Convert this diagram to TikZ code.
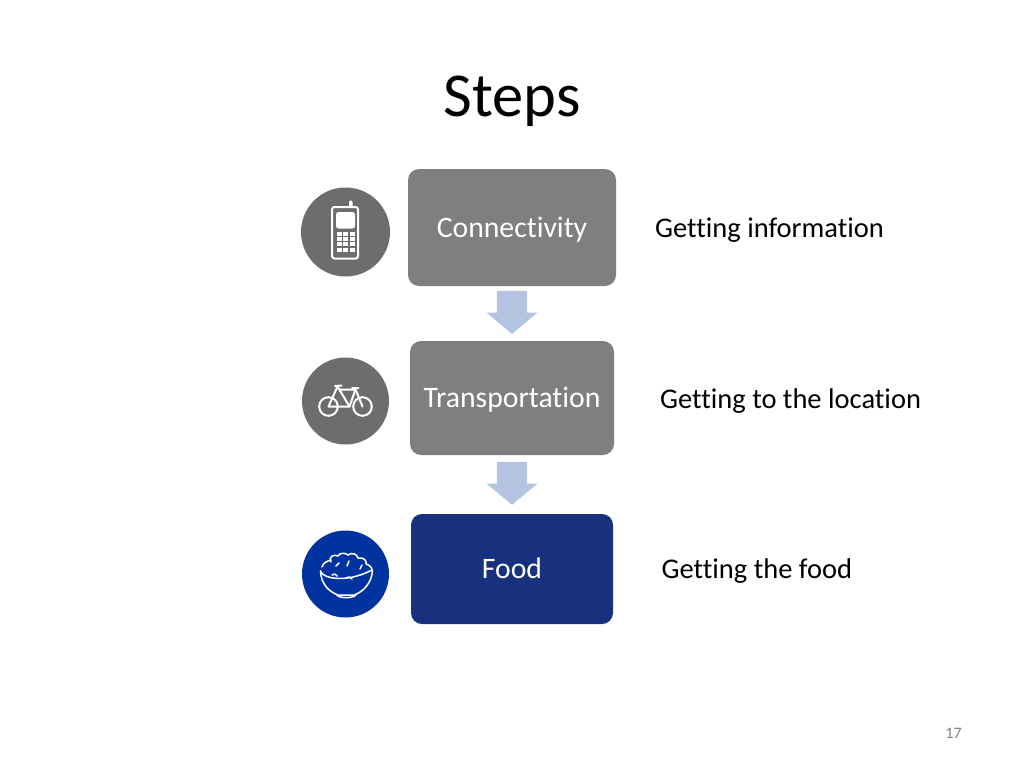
\documentclass[tikz,border=0pt]{standalone}
\usepackage{fontspec}
\setmainfont[Ligatures=CommonOff]{Carlito}
\usetikzlibrary{shapes.arrows}
\definecolor{boxgray}{HTML}{7F7F7F}
\definecolor{icongray}{HTML}{6D6D6F}
\definecolor{foodblue}{HTML}{17317F}
\definecolor{iconblue}{HTML}{0033A0}
\definecolor{arrowblue}{HTML}{B4C4E0}
\tikzset{
	stepbox/.style={fill=boxgray, rounded corners=11pt, text=white, inner sep=0pt, text height=25pt, text depth=6pt, font=\fontsize{29.7}{32}\selectfont},
	iconback/.style={circle, fill=icongray, inner sep=0pt},
	flowarrow/.style={single arrow, fill=arrowblue, rotate=-90, inner sep=0pt, text width=22pt, text height=15pt, text depth=15pt, minimum height=43pt, single arrow head extend=10pt, single arrow tip angle=100},
	steptext/.style={anchor=base west, inner sep=0pt, font=\fontsize{28.5}{32}\selectfont},
	iconline/.style={draw=white, line width=2pt, line cap=round, line join=round},
}
\begin{document}
\begin{tikzpicture}[x=1pt, y=-1pt]
		\useasboundingbox (0,0) rectangle (1024,768);

		% Title and page number
		\node[font=\fontsize{62.5}{70}\selectfont] (title) at (512,101) {Steps};
		\node[text=gray, font=\fontsize{16}{18}\selectfont] (pagenum) at (953.5,733) {17};

		% Draw the step boxes
		\node[stepbox, minimum width=208pt, minimum height=117pt] (connect) at (512,227.5) {Connectivity};
		\node[stepbox, minimum width=204pt, minimum height=114pt] (transport) at (512,398) {Transportation};
		\node[stepbox, fill=foodblue, minimum width=202pt, minimum height=110pt] (food) at (512,569) {Food};

		% Arrows between the boxes
		\node[flowarrow] (arrowone) at (512,306) {};
		\node[flowarrow] (arrowtwo) at (512,477) {};

		% Text at the right
		\node[steptext] (infotext) at (655,237) {Getting information};
		\node[steptext] (locationtext) at (660,408) {Getting to the location};
		\node[steptext] (foodtext) at (661.5,578.5) {Getting the food};

		% Icon circles
		\node[iconback, minimum size=89pt] (phonecircle) at (345.5,232) {};
		\node[iconback, minimum size=87pt] (bikecircle) at (345.5,401) {};
		\node[iconback, fill=iconblue, minimum size=87pt] (bowlcircle) at (345.5,574) {};

		% Draw the phone
		\draw[iconline, rounded corners=2.5pt] (332,207) rectangle (358,258.5);
		\fill[white, rounded corners=1pt] (349,207) -- (349,201.5) -- (350.5,200) -- (352.5,201.5) -- (352.5,207) -- cycle;
		\fill[white, rounded corners=2.5pt] (336,212) rectangle (355,228.5);
		\foreach \i in {0,1,2} {
			\foreach \j in {0,1,2,3} {
				\fill[white] (336.5+6.5*\i,232+5.2*\j) rectangle ++(5.2,4);
			}
		}

		% Draw the bicycle
		\draw[iconline] (328.5,406.5) circle (9.3);
		\draw[iconline] (362.5,406.5) circle (9.3);
		\draw[iconline] (328.5,406.5) -- (337.5,386.5) -- (349.5,406.5) -- (328.5,406.5);
		\draw[iconline] (339,389.5) -- (355.5,389.5) -- (349.5,406.5);
		\draw[iconline] (355,388) -- (362.5,406.5);
		\draw[iconline] (335,386) -- (341.5,385.5);
		\draw[iconline] (352,387.5) -- (358.5,387.5);

		% Draw the bowl
		\begin{scope}[iconline, line width=1.5pt]
			\draw (320.5,571) .. controls (322,578) and (345,584) .. (372,570);
			\draw (320.5,571) .. controls (321,585) and (330,592) .. (338,595) -- (354,595) .. controls (363,592) and (372,583) .. (372.5,570);
			\draw (337,595) .. controls (339,598.5) and (353,598.5) .. (356,595);
			\draw (322,567) .. controls (323,563) and (327,561) .. (331,560);
			\draw (331,562) .. controls (328,556) and (335,554) .. (338,556) .. controls (340,552) and (346,553) .. (348,555) .. controls (352,552) and (357,554) .. (358,558) .. controls (364,557) and (367,561) .. (366,564) .. controls (370,565) and (372,568) .. (372,570);
			\draw (336,566) -- (339,563);
			\draw (347,566) -- (349,561);
			\draw (360,569) -- (362,565);
			\draw (332,575) .. controls (334,573) and (336,574) .. (337,576);
			\draw (346,578) .. controls (348,576) and (350,577) .. (352,579);
		\end{scope}

	\end{tikzpicture}
\end{document}
